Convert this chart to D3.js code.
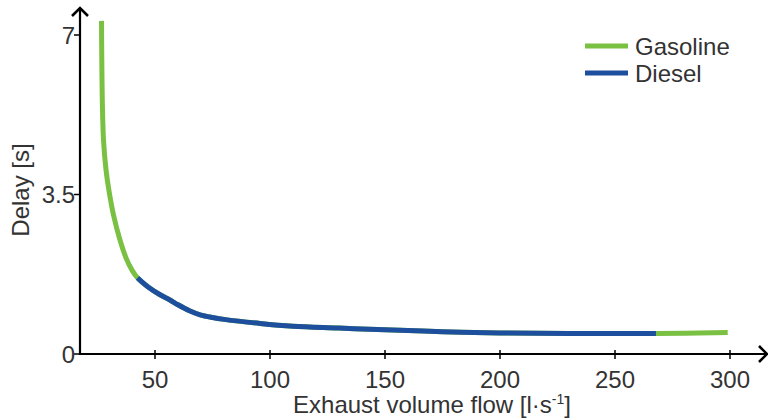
<!DOCTYPE html>
<html>
<head>
<meta charset="utf-8">
<script src="https://cdn.jsdelivr.net/npm/d3@7"></script>
<style>
  body { margin: 0; background: #fff; }
  text { font-family: "Liberation Sans", Arial, sans-serif; fill: #333; }
</style>
</head>
<body>
<div id="chart"></div>
<script>
// values
const gasolineX = [26.74, 26.87, 27.09, 27.61, 28.7, 30, 31.96, 34.78, 37.39, 40, 42.4, 47, 52.2, 56.5, 60, 65, 69.6, 75, 80, 95.7, 110, 130, 150, 175, 200, 230, 267.8, 299];
const gasolineY = [7.31, 6.45, 5.57, 4.7, 4.04, 3.58, 3.05, 2.5, 2.11, 1.84, 1.67, 1.47, 1.3, 1.185, 1.08, 0.95, 0.86, 0.8, 0.76, 0.67, 0.61, 0.57, 0.53, 0.49, 0.46, 0.45, 0.45, 0.47];
const dieselX = [42.4, 47, 52.2, 56.5, 60, 65, 69.6, 75, 80, 95.7, 110, 130, 150, 175, 200, 230, 267.8];
const dieselY = [1.67, 1.47, 1.3, 1.185, 1.08, 0.95, 0.86, 0.8, 0.76, 0.67, 0.61, 0.57, 0.53, 0.49, 0.46, 0.45, 0.45];
const xTicks = [50, 100, 150, 200, 250, 300];
const yTicks = [0, 3.5, 7];
const seriesNames = ["Gasoline", "Diesel"];
const seriesColors = ["#7ac143", "#1e4f9e"];

const width = 768, height = 420;
const originX = 80, originY = 354;

const svg = d3.select("#chart").append("svg")
    .attr("width", width)
    .attr("height", height);

const x = d3.scaleLinear().domain([0, 300]).range([40, 730]);
const y = d3.scaleLinear().domain([0, 7]).range([originY, 35]);

const line = d3.line()
    .x(d => x(d[0]))
    .y(d => y(d[1]))
    .curve(d3.curveCatmullRom.alpha(0.5));

const series = [
  d3.zip(gasolineX, gasolineY),
  d3.zip(dieselX, dieselY)
];

svg.append("g")
  .selectAll()
  .data(series)
  .join("path")
    .attr("fill", "none")
    .attr("stroke", (d, i) => seriesColors[i])
    .attr("stroke-width", 5)
    .attr("d", line);

// axes
const axes = svg.append("g").attr("stroke", "#000").attr("fill", "none");
axes.append("line")
    .attr("x1", originX).attr("x2", width - 1)
    .attr("y1", originY).attr("y2", originY)
    .attr("stroke-width", 2.2);
axes.append("line")
    .attr("x1", originX).attr("x2", originX)
    .attr("y1", originY + 1).attr("y2", 8)
    .attr("stroke-width", 2.2);
// arrow heads
axes.append("path")
    .attr("d", `M${originX - 8},${16} L${originX},${8} L${originX + 8},${16}`)
    .attr("stroke-width", 2.6);
axes.append("path")
    .attr("d", `M${width - 9},${originY - 8} L${width - 1},${originY} L${width - 9},${originY + 8}`)
    .attr("stroke-width", 2.6);

axes.selectAll(".xt")
  .data(xTicks)
  .join("line")
    .attr("x1", d => x(d)).attr("x2", d => x(d))
    .attr("y1", originY - 4).attr("y2", originY + 5)
    .attr("stroke-width", 1.5);

axes.selectAll(".yt")
  .data(yTicks)
  .join("line")
    .attr("x1", originX - 6).attr("x2", originX)
    .attr("y1", d => y(d)).attr("y2", d => y(d))
    .attr("stroke-width", 1.5);

svg.append("g")
    .attr("font-size", 24)
    .attr("text-anchor", "middle")
  .selectAll()
  .data(xTicks)
  .join("text")
    .attr("x", d => x(d))
    .attr("y", originY + 34)
    .text(d => d);

svg.append("g")
    .attr("font-size", 24)
    .attr("text-anchor", "end")
  .selectAll()
  .data(yTicks)
  .join("text")
    .attr("x", originX - 5)
    .attr("y", d => y(d) + 8.5)
    .text(d => d);

// axis titles
const xTitle = svg.append("text")
    .attr("x", 432)
    .attr("y", 413)
    .attr("font-size", 24)
    .attr("text-anchor", "middle");
xTitle.append("tspan").text("Exhaust volume flow [l·s");
xTitle.append("tspan").attr("font-size", 14).attr("dy", -9).text("-1");
xTitle.append("tspan").attr("dy", 9).text("]");

svg.append("text")
    .attr("transform", "translate(29,190) rotate(-90)")
    .attr("font-size", 24)
    .attr("text-anchor", "middle")
    .text("Delay [s]");

// legend
const legend = svg.append("g")
  .selectAll()
  .data(seriesNames)
  .join("g")
    .attr("transform", (d, i) => `translate(585,${46 + i * 27})`);
legend.append("line")
    .attr("x1", 0).attr("x2", 43)
    .attr("stroke", (d, i) => seriesColors[i])
    .attr("stroke-width", 5);
legend.append("text")
    .attr("x", 50)
    .attr("y", 9)
    .attr("font-size", 24)
    .text(d => d);
</script>
</body>
</html>
